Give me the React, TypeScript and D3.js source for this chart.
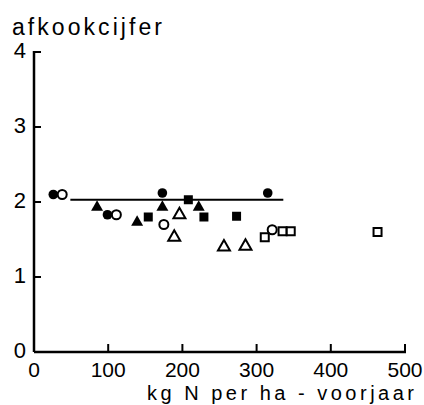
import React from "react";
import * as d3 from "d3";

type Pt = [number, number];

// kg N per ha (voorjaar) vs afkookcijfer, one array per marker style
const filledCircles: Pt[] = [[26, 2.1], [99, 1.83], [173, 2.12], [315, 2.12]];
const openCircles: Pt[] = [[38, 2.1], [111, 1.83], [175, 1.7], [321, 1.63]];
const filledTriangles: Pt[] = [[85, 1.93], [139, 1.73], [173, 1.93], [222, 1.93]];
const openTriangles: Pt[] = [[196, 1.83], [189, 1.53], [256, 1.4], [285, 1.41]];
const filledSquares: Pt[] = [[154, 1.8], [208, 2.03], [229, 1.8], [273, 1.81]];
const openSquares: Pt[] = [[311, 1.53], [335, 1.61], [346, 1.61], [463, 1.6]];

const meanLine: Pt[] = [[49, 2.03], [336, 2.03]];

const xTicks = [0, 100, 200, 300, 400, 500];
const yTicks = [0, 1, 2, 3, 4];

const App: React.FC = () => {
  const width = 424;
  const height = 405;
  const margin = { top: 52, right: 19, bottom: 53, left: 34 };

  const x = d3
    .scaleLinear()
    .domain([0, 500])
    .range([margin.left, width - margin.right]);
  const y = d3
    .scaleLinear()
    .domain([0, 4])
    .range([height - margin.bottom, margin.top]);

  const tri = d3.symbol().type(d3.symbolTriangle).size(62);
  const font = "'Liberation Sans', Arial, sans-serif";

  return (
    <svg
      width={width}
      height={height}
      style={{ position: "absolute", left: 0, top: 0, background: "#fff" }}
      fontFamily={font}
    >
      {/* title */}
      <text x={12} y={35} fontSize={23} textLength={150} lengthAdjust="spacing">
        afkookcijfer
      </text>

      {/* Y axis */}
      <line x1={x(0)} x2={x(0)} y1={y(4) - 1} y2={y(0)} stroke="#000" strokeWidth={2.5} />
      {yTicks.map((t) => (
        <g key={t}>
          {t > 0 && (
            <line x1={x(0)} x2={x(0) + 7} y1={y(t)} y2={y(t)} stroke="#000" strokeWidth={2} />
          )}
          <text
            x={x(0) - 8}
            y={y(t)}
            textAnchor="end"
            dominantBaseline="middle"
            fontSize={22}
          >
            {t}
          </text>
        </g>
      ))}

      {/* X axis */}
      <line x1={x(0)} x2={x(500) + 1} y1={y(0)} y2={y(0)} stroke="#000" strokeWidth={2.5} />
      {xTicks.map((t) => (
        <g key={t}>
          {t > 0 && (
            <line x1={x(t)} x2={x(t)} y1={y(0)} y2={y(0) - 8} stroke="#000" strokeWidth={2} />
          )}
          <text x={x(t)} y={y(0) + 25} textAnchor="middle" fontSize={21}>
            {t}
          </text>
        </g>
      ))}
      <text x={147} y={400} fontSize={20} textLength={267} lengthAdjust="spacing">
        kg N per ha - voorjaar
      </text>

      {/* mean line */}
      <line
        x1={x(meanLine[0][0])}
        x2={x(meanLine[1][0])}
        y1={y(meanLine[0][1])}
        y2={y(meanLine[1][1])}
        stroke="#000"
        strokeWidth={2}
      />

      {/* markers */}
      {filledCircles.map((d, i) => (
        <circle key={"fc" + i} cx={x(d[0])} cy={y(d[1])} r={4.8} fill="#000" />
      ))}
      {openCircles.map((d, i) => (
        <circle key={"oc" + i} cx={x(d[0])} cy={y(d[1])} r={4.5} fill="#fff" stroke="#000" strokeWidth={2} />
      ))}
      {filledTriangles.map((d, i) => (
        <path key={"ft" + i} d={tri()!} transform={`translate(${x(d[0])},${y(d[1])})`} fill="#000" />
      ))}
      {openTriangles.map((d, i) => (
        <path
          key={"ot" + i}
          d={tri()!}
          transform={`translate(${x(d[0])},${y(d[1])})`}
          fill="#fff"
          stroke="#000"
          strokeWidth={2}
        />
      ))}
      {filledSquares.map((d, i) => (
        <rect key={"fs" + i} x={x(d[0]) - 4.5} y={y(d[1]) - 4.5} width={9} height={9} fill="#000" />
      ))}
      {openSquares.map((d, i) => (
        <rect
          key={"os" + i}
          x={x(d[0]) - 4}
          y={y(d[1]) - 4}
          width={8}
          height={8}
          fill="#fff"
          stroke="#000"
          strokeWidth={2}
        />
      ))}
    </svg>
  );
};

export default App;
